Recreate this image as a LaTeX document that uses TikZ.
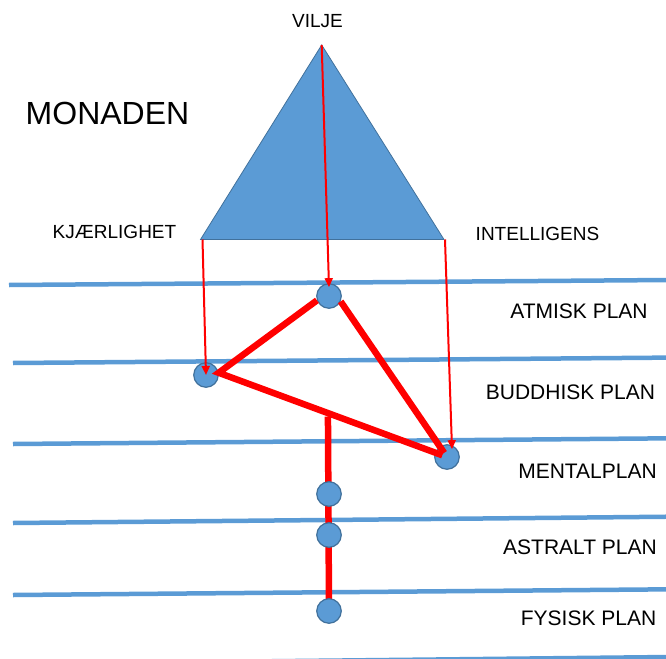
\documentclass[tikz,border=0pt]{standalone}
\usepackage{fontspec}
\setmainfont{Liberation Sans}
\usetikzlibrary{arrows.meta,calc,backgrounds}
\definecolor{planblue}{HTML}{5B9BD5}
\definecolor{edgeblue}{HTML}{41719C}
\definecolor{linkred}{HTML}{FF0000}
\begin{document}
\begin{tikzpicture}[x=1pt,y=-1pt,
  plane/.style={planblue,line width=4.5pt},
  dot/.style={circle,fill=planblue,draw=edgeblue,line width=1.2pt,minimum size=24.5pt,inner sep=0pt},
  bond/.style={linkred,line width=6.5pt,line join=miter},
  ray/.style={linkred,line width=2pt,-{Triangle[length=9pt,width=8pt]}},
  lbl/.style={inner sep=0pt,font=\fontsize{21}{25}\selectfont},
  toplbl/.style={inner sep=0pt,font=\fontsize{19}{23}\selectfont},
  bigl/.style={inner sep=0pt,font=\fontsize{32}{38}\selectfont}]
\path[use as bounding box] (0,0) rectangle (666,658);
\clip (0,0) rectangle (666,658);

% circles
\node[dot] (A) at (329,296) {};
\node[dot] (B) at (206,375) {};
\node[dot] (C) at (447,457) {};
\node[dot] (D) at (329,494) {};
\node[dot] (E) at (329,535) {};
\node[dot] (F) at (329,611) {};

\coordinate (T) at (321.7,45);
\coordinate (KL) at (200.5,239.5);
\coordinate (KR) at (444,239.5);
\coordinate (J) at ($(B.center)!0.506!(C.center)$);

\begin{scope}[on background layer]
  \draw[plane] (9,285) -- (670,280);
  \draw[plane] (13,363) -- (670,357.6);
  \draw[plane] (13,444) -- (670,438.3);
  \draw[plane] (13,523) -- (670,516.7);
  \draw[plane] (13,595) -- (670,589.3);
  \draw[plane] (13,664) -- (670,657);
  \draw[fill=planblue,draw=edgeblue,line width=0.8pt] (T) -- (KL) -- (KR) -- cycle;
  \draw[bond] (J) -- (F.center);
\end{scope}

% thick triangle of bonds
\draw[bond,shorten >=5pt] (A.200) -- (B.10) -- (C.center);
\draw[bond,shorten >=5pt] (A.335) -- (C.center);

% thin arrows from the monad
\draw[ray] (T) -- ([yshift=-4pt]A.north);
\draw[ray] ([xshift=2pt]KL) -- (B.center);
\draw[ray] ([xshift=1pt]KR) -- ([xshift=5pt,yshift=-5pt]C.north);

% labels
\node[bigl] (mon) at (107.5,113.5) {MONADEN};
\node[toplbl] (vil) at (317.5,21.5) {VILJE};
\node[toplbl] (kj) at (114.5,231.5) {KJÆRLIGHET};
\node[toplbl] (int) at (537.5,234) {INTELLIGENS};
\node[lbl] (p1) at (579,310.8) {ATMISK PLAN};
\node[lbl] (p2) at (570.5,392) {BUDDHISK PLAN};
\node[lbl] (p3) at (587.5,470.8) {MENTALPLAN};
\node[lbl] (p4) at (580,547.5) {ASTRALT PLAN};
\node[lbl] (p5) at (588.5,618.5) {FYSISK PLAN};
\end{tikzpicture}
\end{document}
